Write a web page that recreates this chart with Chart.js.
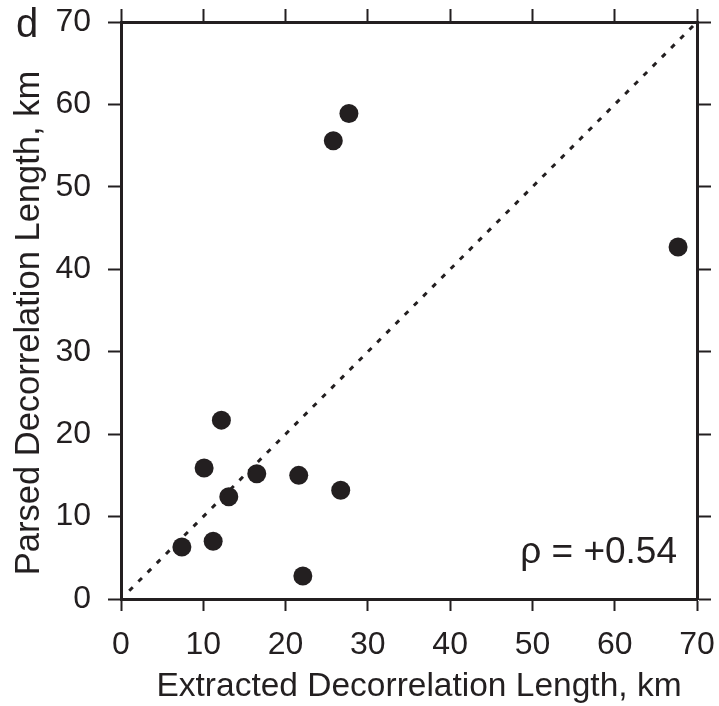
<!DOCTYPE html>
<html>
<head>
<meta charset="utf-8">
<script src="https://cdn.jsdelivr.net/npm/chart.js@4/dist/chart.umd.min.js"></script>
<style>
  html, body { margin: 0; padding: 0; background: #ffffff; }
  #chart { display: block; }
</style>
</head>
<body>
<canvas id="chart" width="719" height="706"></canvas>
<script>
// Extracted vs parsed decorrelation length (km)
const extracted = [7.4, 11.2, 22.1, 13.1, 10.1, 12.2, 16.5, 21.6, 26.7, 25.8, 27.7, 67.7];
const parsed    = [6.3, 7.0, 2.8, 12.4, 15.9, 21.7, 15.2, 15.0, 13.2, 55.6, 58.9, 42.7];

const oneToOneX = [1, 70];
const oneToOneY = [1, 70];

const axisMin = 0;
const axisMax = 70;
const tickStep = 10;

const xTitle = 'Extracted Decorrelation Length, km';
const yTitle = 'Parsed Decorrelation Length, km';
const panelLabel = 'd';
const corrLabel = 'ρ = +0.54';

const INK = '#231f20';
const FONT = '"Liberation Sans", Arial, Helvetica, sans-serif';

const points = extracted.map((x, i) => ({ x: x, y: parsed[i] }));
const diagonal = oneToOneX.map((x, i) => ({ x: x, y: oneToOneY[i] }));

// titles and labels drawn on top of the frame
const textPlugin = {
    id: 'panelText',
    afterDraw(chart) {
        const ctx = chart.ctx;
        const area = chart.chartArea;
        ctx.save();
        ctx.fillStyle = INK;

        ctx.font = '40px ' + FONT;
        ctx.textAlign = 'left';
        ctx.textBaseline = 'alphabetic';
        ctx.fillText(panelLabel, 16, 37);

        ctx.font = '37px ' + FONT;
        ctx.textAlign = 'right';
        ctx.fillText(corrLabel, area.right - 20, 563);

        ctx.font = '33.5px ' + FONT;
        ctx.textAlign = 'center';
        ctx.fillText(xTitle, 419, 696);

        ctx.font = '34.5px ' + FONT;
        ctx.translate(39, 323);
        ctx.rotate(-Math.PI / 2);
        ctx.fillText(yTitle, 0, 0);
        ctx.restore();
    }
};

// fixed box sizes so the plot frame lands where the reference has it
const fixSize = (w, h) => (scale) => {
    if (w !== null) scale.width = w;
    if (h !== null) scale.height = h;
    scale.paddingTop = 0;
    scale.paddingBottom = 0;
    scale.paddingLeft = 0;
    scale.paddingRight = 0;
};

const tickFont = { family: FONT, size: 32 };

new Chart(document.getElementById('chart'), {
    type: 'scatter',
    data: {
        datasets: [
            {
                type: 'line',
                data: diagonal,
                borderColor: INK,
                borderWidth: 3,
                borderDash: [5, 8],
                pointRadius: 0,
                fill: false
            },
            {
                data: points,
                backgroundColor: INK,
                borderColor: INK,
                borderWidth: 0,
                pointRadius: 9.5,
                pointHoverRadius: 9.5
            }
        ]
    },
    options: {
        responsive: false,
        animation: false,
        layout: { padding: 0 },
        plugins: {
            legend: { display: false },
            tooltip: { enabled: false }
        },
        scales: {
            x: {
                type: 'linear',
                position: 'bottom',
                min: axisMin,
                max: axisMax,
                ticks: { stepSize: tickStep, color: INK, font: tickFont, padding: 15 },
                grid: { drawOnChartArea: false, tickLength: 12, tickWidth: 2, tickColor: INK },
                border: { display: true, width: 3, color: INK },
                afterFit: fixSize(null, 107)
            },
            x2: {
                type: 'linear',
                position: 'top',
                min: axisMin,
                max: axisMax,
                ticks: { stepSize: tickStep, display: false },
                grid: { drawOnChartArea: false, tickLength: 13, tickWidth: 2, tickColor: INK },
                border: { display: true, width: 3, color: INK },
                afterFit: fixSize(null, 22)
            },
            y: {
                type: 'linear',
                position: 'left',
                min: axisMin,
                max: axisMax,
                ticks: { stepSize: tickStep, color: INK, font: tickFont, padding: 17 },
                grid: { drawOnChartArea: false, tickLength: 13, tickWidth: 2, tickColor: INK },
                border: { display: true, width: 3, color: INK },
                afterFit: fixSize(121, null)
            },
            y2: {
                type: 'linear',
                position: 'right',
                min: axisMin,
                max: axisMax,
                ticks: { stepSize: tickStep, display: false },
                grid: { drawOnChartArea: false, tickLength: 14, tickWidth: 2, tickColor: INK },
                border: { display: true, width: 3, color: INK },
                afterFit: fixSize(22, null)
            }
        }
    },
    plugins: [textPlugin]
});
</script>
</body>
</html>
